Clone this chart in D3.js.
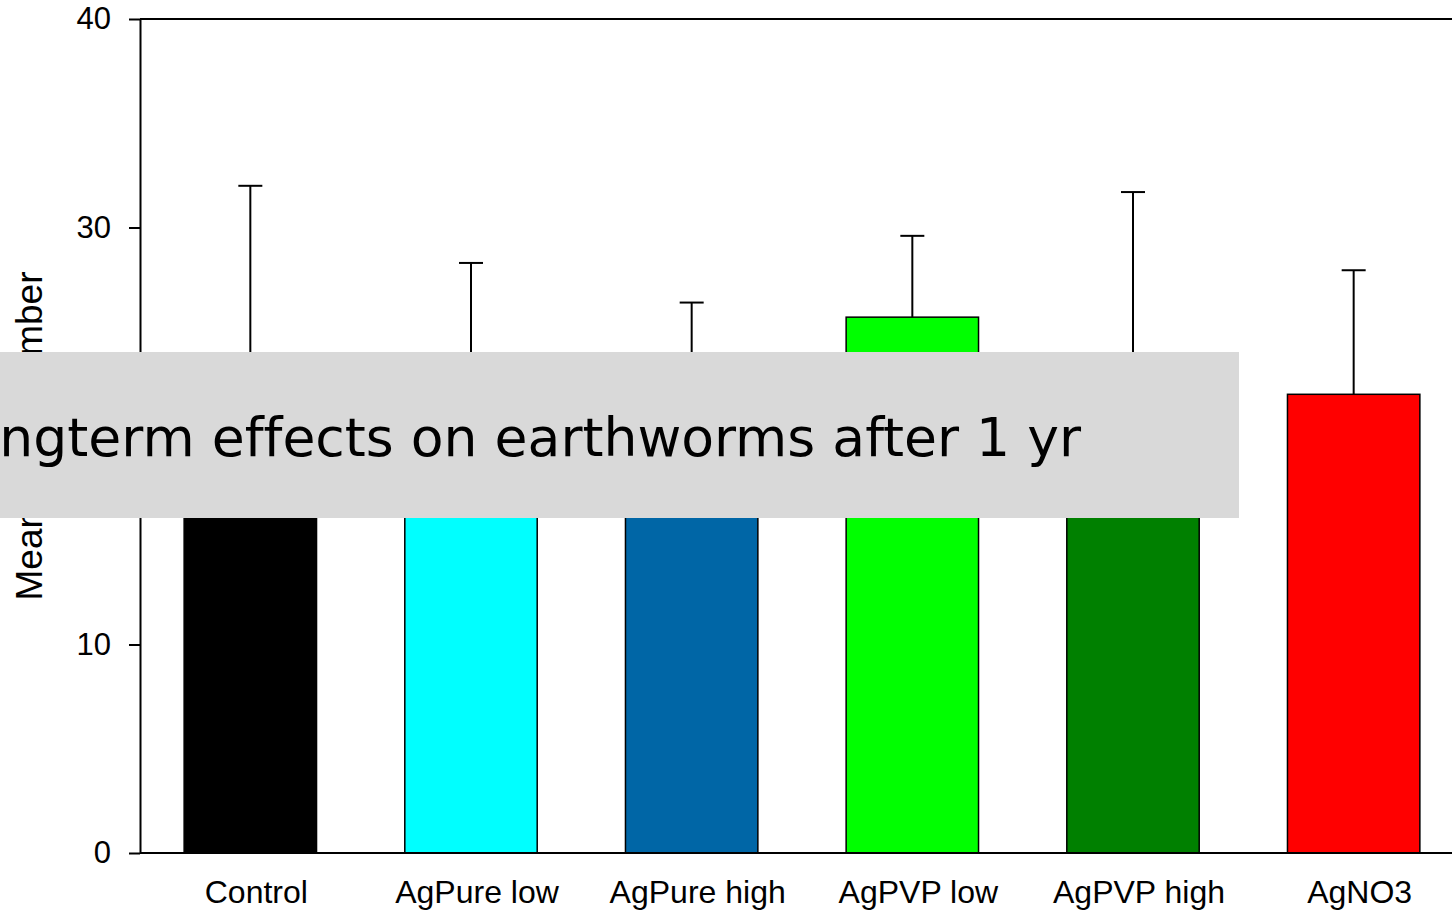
<!DOCTYPE html>
<html>
<head>
<meta charset="utf-8">
<script src="https://cdn.jsdelivr.net/npm/d3@7"></script>
<style>
  html, body { margin: 0; padding: 0; background: #fff; overflow: hidden; }
  .axis text { font-family: "Liberation Sans", Arial, sans-serif; fill: #000; }
  .axis path, .axis line { stroke: #000; stroke-width: 2px; }
</style>
</head>
<body>
<div id="chart"></div>
<script>
const categories = ["Control", "AgPure low", "AgPure high", "AgPVP low", "AgPVP high", "AgNO3"];
const means = [20.5, 21.0, 19.5, 25.7, 21.5, 22.0];
const errors = [11.5, 7.3, 6.9, 3.9, 10.2, 5.95];
const colors = ["#000000", "#00ffff", "#0066a6", "#00ff00", "#008000", "#ff0000"];
const yTicks = [0, 10, 20, 30, 40];
const title = "Longterm effects on earthworms after 1 yr";
const yLabel = "Mean worm number";

const W = 1452, H = 912;
const m = { left: 140, top: 19, bottom: 853, right: 1464 };

const svg = d3.select("#chart").append("svg")
  .attr("width", W)
  .attr("height", H);

const x = d3.scaleBand()
  .domain(categories)
  .range([m.left, m.right])
  .paddingInner(0.4)
  .paddingOuter(0.2);

const y = d3.scaleLinear()
  .domain([0, 40])
  .range([m.bottom, m.top]);

// bars
svg.selectAll("rect.bar")
  .data(categories)
  .enter().append("rect")
  .attr("class", "bar")
  .attr("x", d => x(d))
  .attr("width", x.bandwidth())
  .attr("y", (d, i) => y(means[i]))
  .attr("height", (d, i) => y(0) - y(means[i]))
  .attr("fill", (d, i) => colors[i])
  .attr("stroke", "#000")
  .attr("stroke-width", 1.5);

// error bars (upper only)
const cap = 12;
const eb = svg.selectAll("g.err")
  .data(categories)
  .enter().append("g")
  .attr("class", "err")
  .attr("stroke", "#000")
  .attr("stroke-width", 2);

eb.append("line")
  .attr("x1", d => x(d) + x.bandwidth() / 2)
  .attr("x2", d => x(d) + x.bandwidth() / 2)
  .attr("y1", (d, i) => y(means[i]))
  .attr("y2", (d, i) => y(means[i] + errors[i]));

eb.append("line")
  .attr("x1", d => x(d) + x.bandwidth() / 2 - cap)
  .attr("x2", d => x(d) + x.bandwidth() / 2 + cap)
  .attr("y1", (d, i) => y(means[i] + errors[i]))
  .attr("y2", (d, i) => y(means[i] + errors[i]));

// y axis
const yAxis = svg.append("g")
  .attr("class", "axis")
  .attr("transform", `translate(${m.left},0)`)
  .call(d3.axisLeft(y)
    .tickValues(yTicks)
    .tickSize(11)
    .tickPadding(18)
    .tickSizeOuter(0));
yAxis.selectAll("text").style("font-size", "31px");

// frame top line
svg.append("line")
  .attr("x1", m.left).attr("x2", W)
  .attr("y1", y(40)).attr("y2", y(40))
  .attr("stroke", "#000").attr("stroke-width", 2);

// x axis
const xAxis = svg.append("g")
  .attr("class", "axis")
  .attr("transform", `translate(0,${m.bottom})`)
  .call(d3.axisBottom(x).tickSize(0).tickPadding(27).tickSizeOuter(0));
xAxis.select(".domain").attr("d", `M${m.left},0H${W}`);
xAxis.selectAll("text").attr("dx", 6).style("font-size", "32px");

// y label
svg.append("text")
  .attr("transform", `translate(42,${(m.top + m.bottom) / 2}) rotate(-90)`)
  .attr("text-anchor", "middle")
  .style("font-family", "'Liberation Sans', Arial, sans-serif")
  .style("font-size", "37px")
  .text(yLabel);

// title banner
svg.append("rect")
  .attr("x", 0).attr("y", 352)
  .attr("width", 1239).attr("height", 166)
  .attr("fill", "#d9d9d9");

svg.append("text")
  .attr("x", 1081)
  .attr("y", 456)
  .attr("text-anchor", "end")
  .style("font-family", "'DejaVu Sans', sans-serif")
  .style("font-size", "53.6px")
  .style("font-variant-ligatures", "none")
  .style("fill", "#000")
  .text(title);
</script>
</body>
</html>
